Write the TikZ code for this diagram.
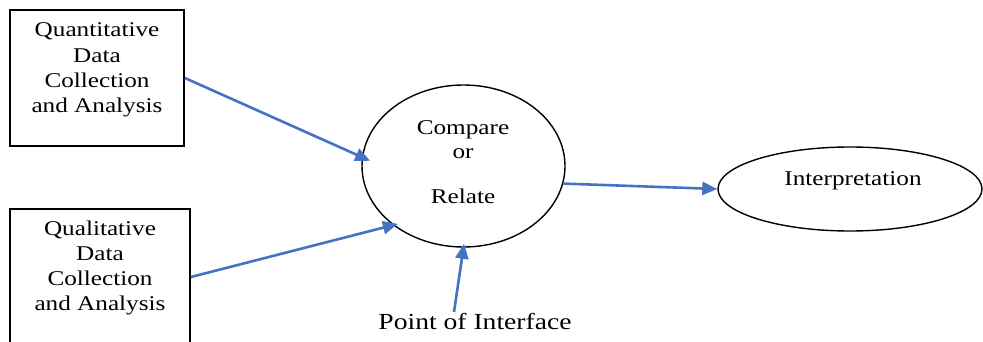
\documentclass[tikz,border=0pt]{standalone}
\usepackage{fontspec}
\setmainfont{Liberation Serif}
\newfontfamily\tnr[FakeStretch=1.2]{Liberation Serif}
\usetikzlibrary{shapes.geometric,arrows.meta}
\definecolor{arrowblue}{HTML}{4472C4}
\tikzset{
  databox/.style={draw=black, line width=1.8pt, rectangle, minimum width=#1, minimum height=136pt, inner sep=0pt},
  oval/.style={draw=black, line width=1.4pt, ellipse, inner sep=0pt},
  lbl/.style={font=\tnr\fontsize{21}{25.3}\selectfont, align=center, inner sep=0pt},
  conn/.style={draw=arrowblue, line width=2.6pt, -{Triangle[length=15pt,width=13pt]}}
}
\begin{document}
\begin{tikzpicture}[x=1pt,y=-1pt]
\useasboundingbox (0,0) rectangle (983,342);
\fill[white] (0,0) rectangle (983,342);
\clip (0,0) rectangle (983,342);
% boxes
\node[databox=174pt] (q1) at (97,78) {};
\node[lbl] (q1t) at (97,70) {Quantitative\\Data\\Collection\\and Analysis};
\node[databox=180pt] (q2) at (100,277) {};
\node[lbl] (q2t) at (100,268) {Qualitative\\Data\\Collection\\and Analysis};
% compare ellipse
\node[oval, minimum width=203pt, minimum height=162pt] (c) at (463.5,166) {};
\node[lbl] (ct1) at (463,130) {Compare};
\node[lbl] (ct2) at (463,154) {or};
\node[lbl] (ct3) at (463,196) {Relate};
% interpretation
\node[oval, minimum width=264pt, minimum height=84pt] (i) at (850,189) {};
\node[lbl] (it) at (853,181) {Interpretation};
% point of interface
\node[lbl, font=\tnr\fontsize{23}{26}\selectfont] (poi) at (475,322) {Point of Interface};
\coordinate (poiTop) at (454,312);
% connectors
\draw[conn, shorten >=-9pt] (q1.east) -- (c.175);
\draw[conn, shorten >=-5pt] (q2.east) -- (c.220);
\draw[conn] (c.-10) -- (i.west);
\draw[conn, shorten >=-4pt] (poiTop) -- (c.south);
\end{tikzpicture}
\end{document}
